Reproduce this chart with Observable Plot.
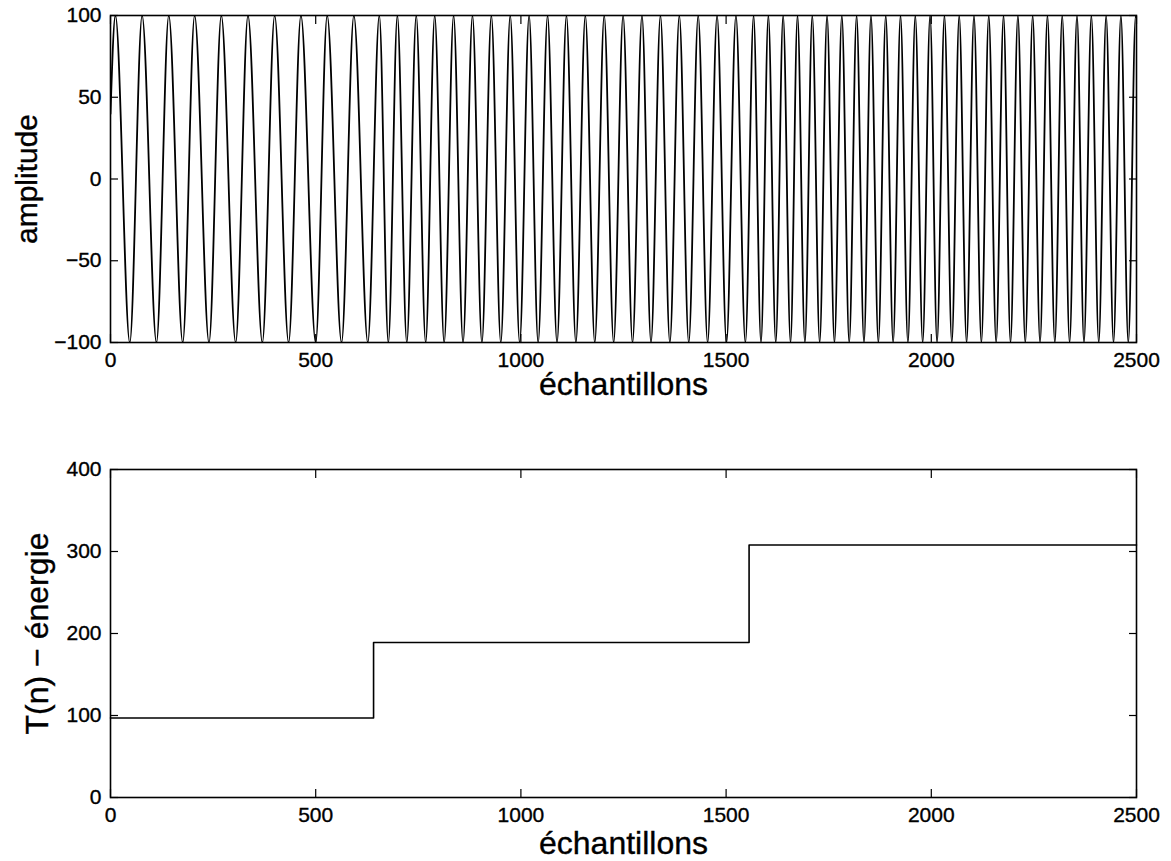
<!DOCTYPE html>
<html>
<head>
<meta charset="utf-8">
<script src="https://cdn.jsdelivr.net/npm/d3@7"></script>
<script src="https://cdn.jsdelivr.net/npm/@observablehq/plot@0.6"></script>
<style>
  html, body { margin: 0; padding: 0; background: #fff; }
  #figure { width: 1171px; }
  #figure svg { display: block; }
  #figure svg text { stroke: #000; stroke-width: 0.35px; }
</style>
</head>
<body>
<div id="figure"></div>
<script>
// Signal: sample index of each turning point (crest / trough) and its amplitude
const signalSamples = [
  0, 12, 47, 77, 112, 142, 176, 205, 240, 270, 305, 335, 370, 400, 434, 464, 500, 528, 563, 593, 627, 655, 677,
  699, 722, 745, 768, 790, 813, 836, 859, 882, 905, 928, 951, 974, 997, 1020, 1042, 1065, 1088, 1111, 1134,
  1157, 1180, 1203, 1226, 1249, 1272, 1295, 1317, 1340, 1363, 1386, 1409, 1432, 1455, 1478, 1501, 1524, 1547,
  1567, 1585, 1603, 1621, 1639, 1657, 1674, 1692, 1710, 1728, 1746, 1764, 1782, 1800, 1818, 1836, 1853, 1871,
  1889, 1907, 1925, 1943, 1961, 1979, 1997, 2014, 2032, 2050, 2068, 2086, 2104, 2122, 2140, 2158, 2176, 2193,
  2211, 2229, 2247, 2265, 2283, 2301, 2319, 2337, 2355, 2372, 2390, 2408, 2426, 2444, 2462, 2480, 2498, 2500
];
const signalAmplitudes = [
  40, 100, -100, 100, -100, 100, -100, 100, -100, 100, -100, 100, -100, 100, -100, 100, -100, 100, -100, 100, -100, 100, -100,
  100, -100, 100, -100, 100, -100, 100, -100, 100, -100, 100, -100, 100, -100, 100, -100, 100, -100, 100, -100,
  100, -100, 100, -100, 100, -100, 100, -100, 100, -100, 100, -100, 100, -100, 100, -100, 100, -100,
  100, -100, 100, -100, 100, -100, 100, -100, 100, -100, 100, -100, 100, -100, 100, -100, 100, -100,
  100, -100, 100, -100, 100, -100, 100, -100, 100, -100, 100, -100, 100, -100, 100, -100, 100, -100,
  100, -100, 100, -100, 100, -100, 100, -100, 100, -100, 100, -100, 100, -100, 100, -100, 100, 99
];

// Energy operator output: level held from each breakpoint to the next
const energySamples = [0, 641, 1556, 2500];
const energyLevels = [97, 189, 308, 308];

const sampleTicks = [0, 500, 1000, 1500, 2000, 2500];
const amplitudeTicks = [-100, -50, 0, 50, 100];
const energyTicks = [0, 100, 200, 300, 400];

const xLabel = "échantillons";
const yLabelTop = "amplitude";
const yLabelBottom = "T(n) − énergie";

const signal = signalSamples.map((n, i) => ({n, a: signalAmplitudes[i]}));
const energy = energySamples.map((n, i) => ({n, t: energyLevels[i]}));

const font = "'Liberation Sans', Arial, Helvetica, sans-serif";
const tickFont = 21;

// Boxed axes with inward ticks on all four sides, labels only bottom and left
function boxAxes(xTicks, yTicks) {
  return [
    Plot.axisX({anchor: "bottom", ticks: xTicks, tickSize: -8, tickPadding: 18, tickFormat: "d", label: null, fontSize: tickFont, strokeWidth: 1.2}),
    Plot.axisX({anchor: "top", ticks: xTicks, tickSize: -8, tickFormat: () => "", label: null, strokeWidth: 1.2}),
    Plot.axisY({anchor: "left", ticks: yTicks, tickSize: -8, tickPadding: 17, tickFormat: "d", label: null, fontSize: tickFont, strokeWidth: 1.2}),
    Plot.axisY({anchor: "right", ticks: yTicks, tickSize: -8, tickFormat: () => "", label: null, strokeWidth: 1.2})
  ];
}

function titles(yTitle, xDy, yDx, ySize) {
  return [
    Plot.text([xLabel], {frameAnchor: "bottom", textAnchor: "middle", lineAnchor: "middle", dy: xDy, fontSize: 32, fill: "#000"}),
    Plot.text([yTitle], {frameAnchor: "left", textAnchor: "middle", lineAnchor: "middle", dx: yDx, rotate: -90, fontSize: ySize, fill: "#000"})
  ];
}

const signalChart = Plot.plot({
  width: 1171,
  height: 400,
  marginTop: 15,
  marginBottom: 58,
  marginLeft: 110,
  marginRight: 35,
  style: {fontFamily: font, fontSize: "21px", color: "#000", background: "#fff", overflow: "visible"},
  x: {domain: [0, 2500]},
  y: {domain: [-100, 100]},
  marks: [
    Plot.line(signal, {x: "n", y: "a", curve: "monotone-x", stroke: "#000", strokeWidth: 1.8, clip: true}),
    Plot.frame({stroke: "#000", strokeWidth: 1.6}),
    ...boxAxes(sampleTicks, amplitudeTicks),
    ...titles(yLabelTop, 42, -83, 30)
  ]
});

const energyChart = Plot.plot({
  width: 1171,
  height: 461,
  marginTop: 69,
  marginBottom: 64,
  marginLeft: 110,
  marginRight: 35,
  style: {fontFamily: font, fontSize: "21px", color: "#000", background: "#fff", overflow: "visible"},
  x: {domain: [0, 2500]},
  y: {domain: [0, 400]},
  marks: [
    Plot.line(energy, {x: "n", y: "t", curve: "step-after", stroke: "#000", strokeWidth: 1.6}),
    Plot.frame({stroke: "#000", strokeWidth: 1.6}),
    ...boxAxes(sampleTicks, energyTicks),
    ...titles(yLabelBottom, 46, -73, 32)
  ]
});

document.getElementById("figure").append(signalChart, energyChart);
</script>
</body>
</html>
